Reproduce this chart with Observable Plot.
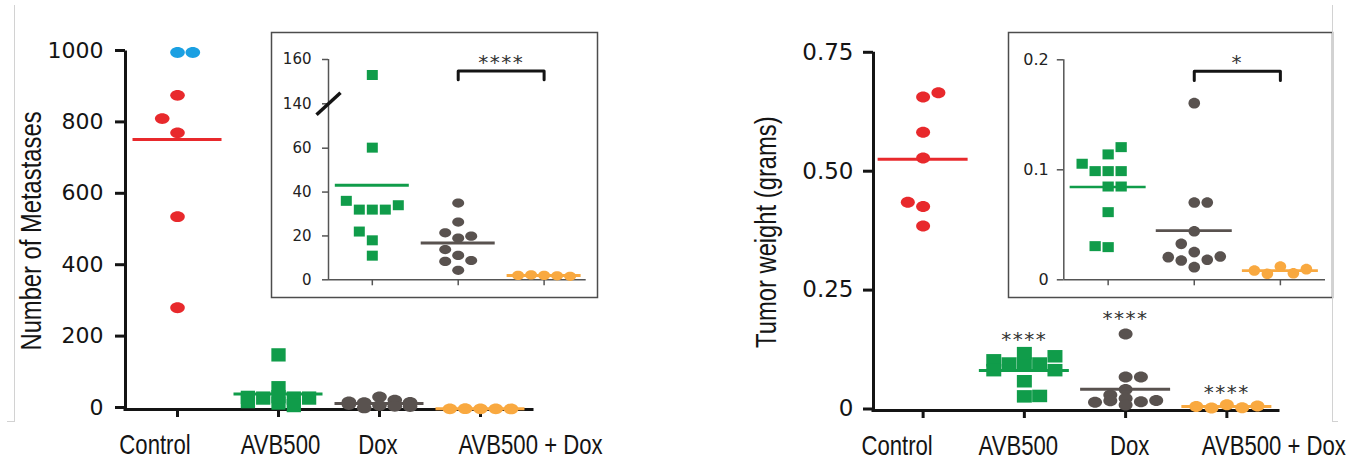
<!DOCTYPE html>
<html><head><meta charset="utf-8">
<script src="https://cdn.jsdelivr.net/npm/d3@7"></script>
<script src="https://cdn.jsdelivr.net/npm/@observablehq/plot@0.6"></script>
<style>
html,body{margin:0;padding:0;background:#fff;}
#fig{position:relative;width:1354px;height:461px;overflow:hidden;background:#fff;}
#fig svg{position:absolute;left:0;top:0;}
.edge{position:absolute;border:0 solid #d2d2d2;}
</style></head><body><div id="fig"></div>
<script>
// ---------- data ----------
const groups = ["Control", "AVB500", "Dox", "AVB500 + Dox"];
const insetGroups = ["AVB500", "Dox", "AVB500 + Dox"];

// Panel A: number of metastases
const metControl = [1000, 1000, 880, 775, 815, 540, 285];
const metAVB500 = [153, 61, 32, 32, 32, 34, 18, 22, 36, 11];
const metDox = [35, 26.3, 19, 19.9, 21.4, 11.1, 8.8, 13.8, 8.4, 4.3];
const metCombo = [2, 1.8, 2.2, 1.6, 2];
const metCap = 1000;               // points at the cap are shown in blue
const metTicks = [0, 200, 400, 600, 800, 1000];
const metInsetTicks = [0, 20, 40, 60, 140, 160];
const metInsetDomain = [0, 60, 140, 160];   // broken axis 60 -> 140
const metInsetBracket = {from: 1, to: 2, top: 154.8, leg: 150.9, label: "****", labelY: 160.9};

// Panel B: tumor weight (grams)
const twControl = [0.659, 0.668, 0.585, 0.531, 0.429, 0.438, 0.388];
const twAVB500 = [0.0988, 0.0988, 0.0988, 0.114, 0.1206, 0.1055, 0.0848, 0.0848, 0.0615, 0.0297, 0.0306];
const twDox = [0.1606, 0.0703, 0.0703, 0.0442, 0.0252, 0.0327, 0.0182, 0.0176, 0.0212, 0.0206, 0.0115];
const twCombo = [0.012, 0.006, 0.0055, 0.0097, 0.0085];
const twTicks = [0, 0.25, 0.5, 0.75];
const twInsetTicks = [0, 0.1, 0.2];
const twStars = [{g: 1, y: 0.1606, label: "****"}, {g: 2, y: 0.2046, label: "****"}, {g: 3, y: 0.0473, label: "****"}];
const twInsetBracket = {from: 1, to: 2, top: 0.1896, leg: 0.1812, label: "*", labelY: 0.2016};

// ---------- style / layout ----------
const W = 1354, H = 461;
const C = {red: "#e8292c", blue: "#1ba0e2", green: "#109c4a", gray: "#59524f", orange: "#f9a940", ink: "#141414"};
const groupColor = [C.red, C.green, C.gray, C.orange];
const sans = "'Liberation Sans',Arial,sans-serif";
const digits = "'DejaVu Sans',sans-serif";
const labelShiftA = [-22.5, 2, -1.5, 50];
const labelShiftB = [-26, -6, 4, 47];
const condensed = new Set([...groups, "Number of Metastases", "Tumor weight (grams)"]);

function ellipse(rx, ry) {
  const k = 0.5522847498;
  return {draw(c) {
    c.moveTo(rx, 0);
    c.bezierCurveTo(rx, ry * k, rx * k, ry, 0, ry);
    c.bezierCurveTo(-rx * k, ry, -rx, ry * k, -rx, 0);
    c.bezierCurveTo(-rx, -ry * k, -rx * k, -ry, 0, -ry);
    c.bezierCurveTo(rx * k, -ry, rx, -ry * k, rx, 0);
    c.closePath();
  }};
}
function box(w, h) { return {draw(c) { c.rect(-w / 2, -h / 2, w, h); }}; }
const slash = {draw(c) { c.moveTo(-12, 11); c.lineTo(12, -11); }};

function frameOf(g, fontSize) {
  return {
    width: W, height: H,
    marginLeft: g.left, marginRight: W - g.right, marginTop: g.top, marginBottom: H - g.bottom,
    style: {background: "transparent", overflow: "visible", fontFamily: digits, fontSize: fontSize + "px", color: C.ink}
  };
}
function mount(svg) { document.getElementById("fig").appendChild(svg); return svg; }

// column-based scatter arrangement (computed, alternating side on each displacement)
function swarm(sets, toPx, thr, maxCol, colPx, step) {
  const rows = [];
  sets.forEach((vals, g) => {
    const placed = []; let disp = 0;
    vals.forEach((v, i) => {
      const py = toPx(v);
      const gap = c => placed.reduce((m, p) => p.c === c ? Math.min(m, Math.abs(p.py - py)) : m, Infinity);
      let col = 0;
      if (gap(0) < thr) {
        const s = disp++ % 2 === 0 ? 1 : -1;
        const cand = [];
        for (let k = 1; k <= maxCol; k++) cand.push(s * k, -s * k);
        const free = cand.find(c => gap(c) >= thr);
        col = free !== undefined ? free : [0, ...cand].reduce((a, b) => gap(b) > gap(a) ? b : a);
      }
      placed.push({c: col, py});
      rows.push({g, v, i, x: g + col * colPx / step});
    });
  });
  return rows;
}
function means(sets, halfPx, step) {
  return sets.map((vals, g) => ({g, m: d3.mean(vals), x1: g - halfPx / step, x2: g + halfPx / step}));
}
function dotMarks(rows, shapes, fills, yv = d => d.v) {
  return shapes.map((sym, g) => Plot.dot(rows.filter(d => d.g === g), {
    x: "x", y: yv, symbol: sym, fill: fills[g], stroke: "none", r: 6
  }));
}

// ---------- Panel A main ----------
{
  const g = {left: 125, right: 532, top: 52, bottom: 409};
  const xd = [-0.515, 3.515];
  const step = (g.right - g.left) / (xd[1] - xd[0]);
  const y = d3.scaleLinear([0, 1000], [g.bottom, g.top]);
  const sets = [metControl, metAVB500, metDox, metCombo];
  const rows = swarm(sets, y, 14.5, 2, 15.3, step);
  const circ = ellipse(7.3, 5.4), sq = box(14.3, 13.3);
  mount(Plot.plot({
    ...frameOf(g, 22),
    x: {domain: xd}, y: {domain: [0, 1000]}, color: {type: "identity"},
    marks: [
      Plot.axisY({ticks: metTicks, tickSize: 10, tickPadding: 12, strokeWidth: 3, label: null, fill: C.ink,
        fontSize: 22, fontFamily: digits, tickFormat: d => String(d), dy: -2}),
      Plot.axisX({ticks: [0, 1, 2, 3], tickSize: 8, strokeWidth: 3, tickFormat: () => "", label: null}),
      Plot.ruleX([xd[0]], {y1: 0, y2: 1000, stroke: C.ink, strokeWidth: 3, strokeLinecap: "square"}),
      Plot.ruleY([0], {stroke: C.ink, strokeWidth: 3, strokeLinecap: "square"}),
      ...dotMarks(rows, [circ, sq, circ, circ],
        [d => d.v >= metCap ? C.blue : C.red, C.green, C.gray, C.orange]),
      Plot.ruleY(means(sets, 44.5, step), {y: "m", x1: "x1", x2: "x2", stroke: d => groupColor[d.g], strokeWidth: 3}),
      ...groups.map((name, i) => Plot.text([name], {x: () => i, frameAnchor: "bottom", lineAnchor: "bottom",
        textAnchor: "middle", dy: 44, dx: labelShiftA[i], fontFamily: sans, fontSize: 27, fill: C.ink})),
      Plot.text(["Number of Metastases"], {frameAnchor: "left", textAnchor: "middle", lineAnchor: "middle",
        dx: -94, rotate: -90, fontFamily: sans, fontSize: 29, fill: C.ink})
    ]
  }));
}

// ---------- Panel B main ----------
{
  const g = {left: 873, right: 1278, top: 53.3, bottom: 410};
  const xd = [-0.49, 3.51];
  const step = (g.right - g.left) / (xd[1] - xd[0]);
  const y = d3.scaleLinear([0, 0.75], [g.bottom, g.top]);
  const sets = [twControl, twAVB500, twDox, twCombo];
  const rows = swarm(sets, y, 8, 2, 15.3, step);
  const circ = ellipse(7, 5.5), sq = box(15, 12.5);
  mount(Plot.plot({
    ...frameOf(g, 23),
    x: {domain: xd}, y: {domain: [0, 0.75]}, color: {type: "identity"},
    marks: [
      Plot.axisY({ticks: twTicks, tickSize: 10, tickPadding: 10, strokeWidth: 3, label: null, fill: C.ink,
        fontSize: 23, fontFamily: digits, dy: -1.5, tickFormat: d => d === 0 ? "0" : d3.format(".2f")(d)}),
      Plot.axisX({ticks: [0, 1, 2, 3], tickSize: 8, strokeWidth: 3, tickFormat: () => "", label: null}),
      Plot.ruleX([xd[0]], {y1: 0, y2: 0.75, stroke: C.ink, strokeWidth: 3, strokeLinecap: "square"}),
      Plot.ruleY([0], {stroke: C.ink, strokeWidth: 3, strokeLinecap: "square"}),
      ...dotMarks(rows, [circ, sq, circ, circ], [C.red, C.green, C.gray, C.orange]),
      Plot.ruleY(means(sets, 45, step), {y: "m", x1: "x1", x2: "x2", stroke: d => groupColor[d.g], strokeWidth: 3}),
      Plot.text(twStars, {x: "g", y: "y", text: "label", fontFamily: digits, fontSize: 20, fill: "#333",
        lineAnchor: "middle", dy: 5}),
      ...groups.map((name, i) => Plot.text([name], {x: () => i, frameAnchor: "bottom", lineAnchor: "bottom",
        textAnchor: "middle", dy: 44.5, dx: labelShiftB[i], fontFamily: sans, fontSize: 27, fill: C.ink})),
      Plot.text(["Tumor weight (grams)"], {frameAnchor: "left", textAnchor: "middle", lineAnchor: "middle",
        dx: -106.5, rotate: -90, fontFamily: sans, fontSize: 29, fill: C.ink})
    ]
  }));
}

// ---------- Inset A (broken y axis) ----------
{
  mount(Plot.plot({...frameOf({left: 271, right: 597, top: 32, bottom: 297}, 15),
    marks: [Plot.frame({fill: "white", stroke: "#4d4d4d", strokeWidth: 1.5})]}));
  const g = {left: 328, right: 585.7, top: 59, bottom: 279.3};
  const xd = [-0.51, 2.49];
  const step = (g.right - g.left) / (xd[1] - xd[0]);
  const yr = [279.3, 147.7, 103.3, 59];
  const pxPerUnit = (yr[0] - yr[1]) / (metInsetDomain[1] - metInsetDomain[0]);
  // warp data values onto a continuous axis with the 60..140 stretch compressed
  const warp = d3.scaleLinear(metInsetDomain, yr.map(p => (yr[0] - p) / pxPerUnit));
  const top = warp(metInsetDomain[metInsetDomain.length - 1]);
  const sets = [metAVB500, metDox, metCombo];
  const rows = swarm(sets, d3.scaleLinear(metInsetDomain, yr), 11, 4, 13, step);
  const circ = ellipse(6, 4.6), sq = box(11, 10);
  const b = metInsetBracket;
  mount(Plot.plot({
    ...frameOf(g, 15),
    x: {domain: xd}, y: {domain: [0, top]}, color: {type: "identity"},
    marks: [
      Plot.axisY({ticks: metInsetTicks.map(warp), tickSize: 6, tickPadding: 11, stroke: "#555", strokeWidth: 1.5,
        label: null, fill: "#222", fontSize: 15, fontFamily: digits, tickFormat: t => String(Math.round(warp.invert(t)))}),
      Plot.axisX({ticks: [0, 1, 2], tickSize: 6, stroke: "#555", strokeWidth: 1.5, tickFormat: () => "", label: null}),
      Plot.ruleX([xd[0]], {y1: 0, y2: top, stroke: "#555", strokeWidth: 1.5}),
      Plot.ruleY([0], {stroke: "#555", strokeWidth: 1.5}),
      Plot.dot([metInsetDomain[2]], {x: () => xd[0], y: d => warp(d), symbol: slash, stroke: C.ink, strokeWidth: 3.5, fill: "none"}),
      ...dotMarks(rows, [sq, circ, circ], [C.green, C.gray, C.orange], d => warp(d.v)),
      Plot.ruleY(means(sets, 37, step), {y: d => warp(d.m), x1: "x1", x2: "x2", stroke: d => groupColor[d.g + 1], strokeWidth: 3}),
      Plot.line([[b.from, b.leg], [b.from, b.top], [b.to, b.top], [b.to, b.leg]],
        {x: d => d[0], y: d => warp(d[1]), stroke: C.ink, strokeWidth: 3}),
      Plot.text([b], {x: d => (d.from + d.to) / 2, y: d => warp(d.labelY), text: "label", fontFamily: digits, fontSize: 20,
        fill: "#333", lineAnchor: "middle", dy: 5})
    ]
  }));
}

// ---------- Inset B ----------
{
  mount(Plot.plot({...frameOf({left: 1008, right: 1332, top: 32, bottom: 297}, 16),
    marks: [Plot.frame({fill: "white", stroke: "#4d4d4d", strokeWidth: 1.5})]}));
  const g = {left: 1063.3, right: 1325, top: 59.3, bottom: 279.3};
  const xd = [-0.515, 2.524];
  const step = (g.right - g.left) / (xd[1] - xd[0]);
  const y = d3.scaleLinear([0, 0.2], [g.bottom, g.top]);
  const sets = [twAVB500, twDox, twCombo];
  const rows = swarm(sets, y, 11, 4, 13, step);
  const circ = ellipse(5.8, 5.3), sq = box(11.3, 10);
  const b = twInsetBracket;
  mount(Plot.plot({
    ...frameOf(g, 16),
    x: {domain: xd}, y: {domain: [0, 0.2]}, color: {type: "identity"},
    marks: [
      Plot.axisY({ticks: twInsetTicks, tickSize: 6.5, tickPadding: 8.5, stroke: "#555", strokeWidth: 1.5, label: null,
        fill: "#222", fontSize: 16, fontFamily: digits, tickFormat: d => d === 0 ? "0" : String(d)}),
      Plot.axisX({ticks: [0, 1, 2], tickSize: 6, stroke: "#555", strokeWidth: 1.5, tickFormat: () => "", label: null}),
      Plot.ruleX([xd[0]], {y1: 0, y2: 0.2, stroke: "#555", strokeWidth: 1.5}),
      Plot.ruleY([0], {stroke: "#555", strokeWidth: 1.5}),
      ...dotMarks(rows, [sq, circ, circ], [C.green, C.gray, C.orange]),
      Plot.ruleY(means(sets, 38, step), {y: "m", x1: "x1", x2: "x2", stroke: d => groupColor[d.g + 1], strokeWidth: 2.7}),
      Plot.line([[b.from, b.leg], [b.from, b.top], [b.to, b.top], [b.to, b.leg]], {stroke: C.ink, strokeWidth: 3}),
      Plot.text([b], {x: d => (d.from + d.to) / 2, y: "labelY", text: "label", fontFamily: digits, fontSize: 20,
        fill: "#333", lineAnchor: "middle", dy: 5})
    ]
  }));
}

// star spacing, and narrow (Arial Narrow-like) category labels and titles
d3.selectAll("#fig text").each(function() {
  const t = this.textContent;
  if (/^\*+$/.test(t)) d3.select(this).style("letter-spacing", "1.5px");
  if (condensed.has(t)) {
    const tr = this.getAttribute("transform");
    if (tr) {
      this.setAttribute("transform", tr + " scale(0.82,1)");
    } else {
      const x = +this.getAttribute("x") || 0, y = +this.getAttribute("y") || 0;
      this.setAttribute("transform", `translate(${x},${y}) scale(0.82,1)`);
      this.removeAttribute("x"); this.removeAttribute("y");
    }
  }
});

// faint panel edges of the original figure
const fig = document.getElementById("fig");
[[13.5, 5, 0, 417, "left"], [6.7, 421, 7.6, 0, "top"], [1332.3, 5, 0, 417, "left"], [1332.3, 421, 6, 0, "top"]]
  .forEach(([l, t, w, h, side]) => {
    const e = document.createElement("div");
    e.className = "edge";
    e.style.cssText = `left:${l}px;top:${t}px;width:${w}px;height:${h}px;border-${side}-width:1.5px;`;
    fig.appendChild(e);
  });
</script></body></html>
